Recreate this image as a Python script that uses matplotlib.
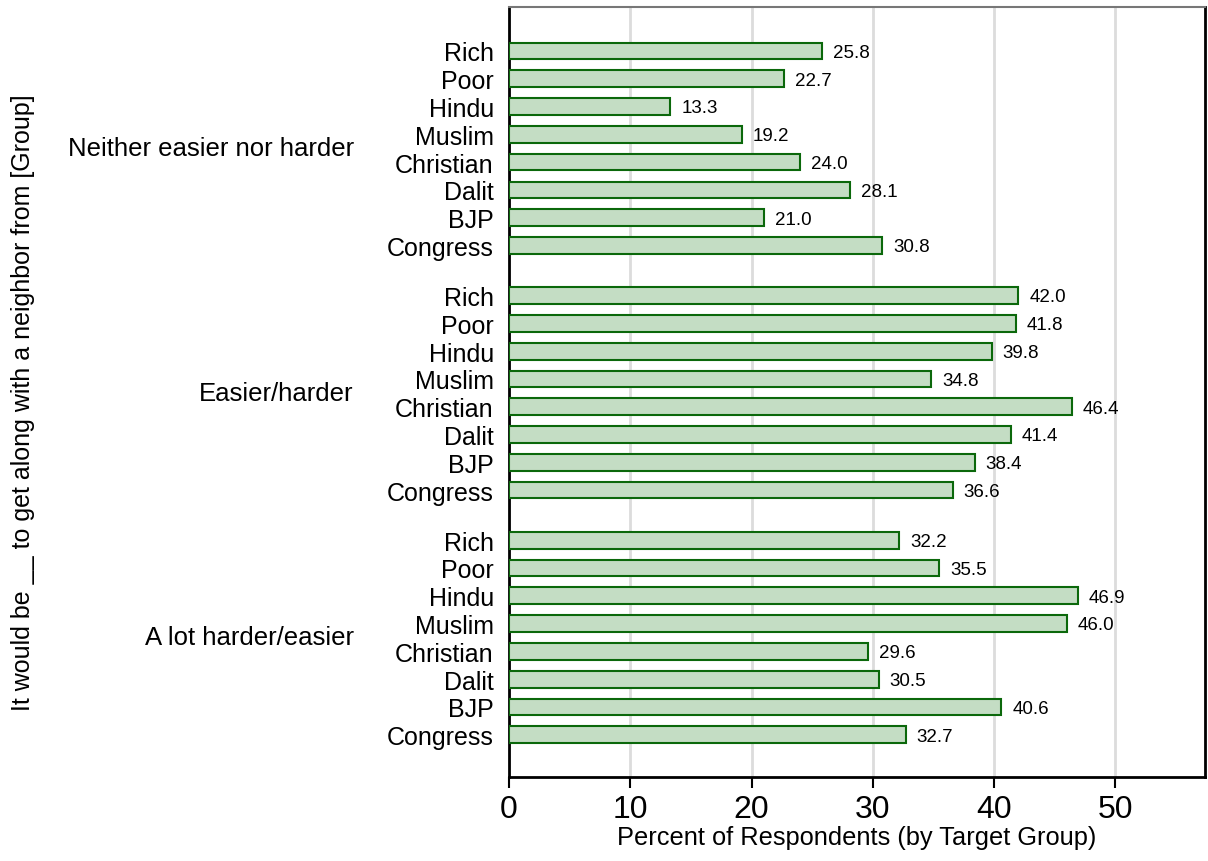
import numpy as np
import matplotlib
matplotlib.use('Agg')
import matplotlib.pyplot as plt

plt.rcParams['font.family'] = ['Liberation Sans', 'DejaVu Sans']

# response groups (top to bottom) and target groups within each
responses = ['Neither easier nor harder', 'Easier/harder', 'A lot harder/easier']
targets = ['Rich', 'Poor', 'Hindu', 'Muslim', 'Christian', 'Dalit', 'BJP', 'Congress']

neither = [25.8, 22.7, 13.3, 19.2, 24.0, 28.1, 21.0, 30.8]
easier_harder = [42.0, 41.8, 39.8, 34.8, 46.4, 41.4, 38.4, 36.6]
a_lot = [32.2, 35.5, 46.9, 46.0, 29.6, 30.5, 40.6, 32.7]
values = [neither, easier_harder, a_lot]

fill_col = '#c4ddc4'
edge_col = '#0b680b'

fig = plt.figure(figsize=(12.08, 8.62), dpi=100)
ax = fig.add_axes([0.4214, 0.0974, 0.9975 - 0.4214, 0.9907 - 0.0974])

group_step = 8.8
ypos, yvals, ylabels = [], [], []
for g, vals in enumerate(values):
    for i, v in enumerate(vals):
        ypos.append(g * group_step + i)
        yvals.append(v)
        ylabels.append(targets[i])
ypos = np.array(ypos)

ax.barh(ypos, yvals, height=0.6, color=fill_col, edgecolor=edge_col,
        linewidth=1.5, zorder=3)
for y, v in zip(ypos, yvals):
    ax.text(v + 0.9, y + 0.05, f'{v:.1f}', va='center', ha='left', fontsize=13.5)

ax.set_yticks(ypos)
ax.set_yticklabels(ylabels, fontsize=18)
ax.tick_params(axis='y', length=0, pad=11)
ax.set_ylim(7 + 2 * group_step + 1.52, -1.58)

ax.set_xlim(0, 57.4)
ax.set_xticks([0, 10, 20, 30, 40, 50])
ax.tick_params(axis='x', labelsize=23, length=8, width=1.5, pad=4)
ax.set_xlabel('Percent of Respondents (by Target Group)', fontsize=18.3, labelpad=1)
ax.grid(axis='x', color='#dcdcdc', linewidth=2, zorder=0)
ax.set_axisbelow(True)

for side in ['left', 'bottom', 'right']:
    ax.spines[side].set_linewidth(2)
    ax.spines[side].set_color('black')
ax.spines['top'].set_color('#777777')
ax.spines['top'].set_linewidth(1.5)

# group labels to the left of the tick labels
for g, name in enumerate(responses):
    yc = g * group_step + 3.5
    ax.text(-12.8, yc, name, ha='right', va='center', fontsize=18.5,
            transform=ax.transData, clip_on=False)

fig.text(0.019, 0.533, 'It would be __ to get along with a neighbor from [Group]',
         rotation=90, ha='center', va='center', fontsize=18)

fig.savefig('out.png', dpi=100)
